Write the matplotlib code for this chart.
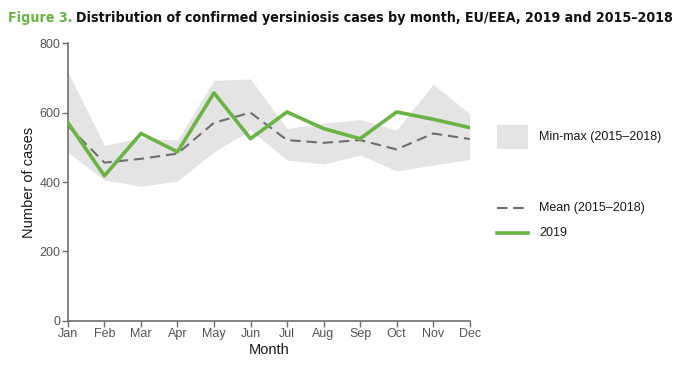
import matplotlib
matplotlib.use("Agg")
import matplotlib.pyplot as plt
from matplotlib import font_manager
from matplotlib.patches import Rectangle
from matplotlib.lines import Line2D

# ── Data ───────────────────────────────────────────────────────────────────
months = ["Jan", "Feb", "Mar", "Apr", "May", "Jun",
          "Jul", "Aug", "Sep", "Oct", "Nov", "Dec"]
cases_2019 = [571, 418, 540, 487, 657, 525, 602, 554, 525, 602, 581, 557]
mean_15_18 = [562, 456, 467, 482, 571, 600, 521, 513, 521, 494, 540, 524]
max_15_18 = [717, 506, 527, 521, 693, 697, 554, 570, 580, 550, 682, 597]
min_15_18 = [485, 406, 388, 403, 487, 550, 463, 452, 478, 432, 449, 465]

# ── Colours ────────────────────────────────────────────────────────────────
GREEN = "#6ab344"
BAND = "#e4e4e4"
MEAN_CLR = "#6e6e6e"
AXIS_CLR = "#707070"
TICK_TXT = "#555555"

plt.rcParams["font.family"] = ["Liberation Sans", "DejaVu Sans"]

# condensed bold face for the title if one is installed
fonts = font_manager.fontManager.ttflist
has_cond = any(f.name == "DejaVu Sans" and "ondensed" in str(f.stretch) + f.fname
               for f in fonts)
TITLE_KW = (dict(family="DejaVu Sans", fontstretch="condensed") if has_cond
            else dict(family="Liberation Sans"))

fig = plt.figure(figsize=(7.0, 3.67), dpi=100)
ax = fig.add_axes([0.097, 0.126, 0.574, 0.756])

x = list(range(len(months)))
ax.fill_between(x, min_15_18, max_15_18, color=BAND, linewidth=0, zorder=1)
ax.plot(x, mean_15_18, color=MEAN_CLR, lw=1.5, dashes=(5, 2.8), zorder=2)
ax.plot(x, cases_2019, color=GREEN, lw=2.6, zorder=3)

ax.set_xlim(0, 11)
ax.set_ylim(0, 800)
ax.set_xticks(x)
ax.set_xticklabels(months)
ax.set_yticks([0, 200, 400, 600, 800])

for side in ["top", "right"]:
    ax.spines[side].set_visible(False)
for side in ["left", "bottom"]:
    ax.spines[side].set_color(AXIS_CLR)
    ax.spines[side].set_linewidth(1.2)
ax.tick_params(axis="both", colors=AXIS_CLR, labelcolor=TICK_TXT,
               labelsize=9, length=4, width=1.0, pad=1.5)

ax.set_xlabel("Month", fontsize=10.5, color="#1a1a1a", labelpad=2)
ax.set_ylabel("Number of cases", fontsize=10.5, color="#1a1a1a", labelpad=2)

# ── Legend (drawn by hand to keep the wide gap of the original) ────────────
W, H = 700.0, 367.0
fig.add_artist(Rectangle((497 / W, 1 - 149 / H), 31 / W, 24 / H,
                         transform=fig.transFigure, facecolor=BAND,
                         edgecolor="none"))
fig.text(539 / W, 1 - 137 / H, "Min-max (2015\u20132018)", fontsize=9,
         color="#1a1a1a", va="center", ha="left")
fig.add_artist(Line2D([497 / W, 528 / W], [1 - 207.5 / H, 1 - 207.5 / H],
                      transform=fig.transFigure, color=MEAN_CLR, lw=1.5,
                      dashes=(5, 2.8)))
fig.text(539 / W, 1 - 207.5 / H, "Mean (2015\u20132018)", fontsize=9,
         color="#1a1a1a", va="center", ha="left")
fig.add_artist(Line2D([497 / W, 528 / W], [1 - 233 / H, 1 - 233 / H],
                      transform=fig.transFigure, color=GREEN, lw=2.6))
fig.text(539 / W, 1 - 233 / H, "2019", fontsize=9,
         color="#1a1a1a", va="center", ha="left")

# ── Title: green prefix + black bold text, fitted to span ~8..668 px ───────
title_a = "Figure 3."
title_b = "Distribution of confirmed yersiniosis cases by month, EU/EEA, 2019 and 2015\u20132018"
size = 11.0
for _ in range(3):
    for t in list(fig.texts):
        if t.get_gid() == "title":
            t.remove()
    t1 = fig.text(8 / W, 1 - 18 / H, title_a, fontsize=size, fontweight="bold",
                  color=GREEN, va="center", ha="left", gid="title", **TITLE_KW)
    fig.canvas.draw()
    bb = t1.get_window_extent()
    t2 = fig.text((bb.x1 + 4) / W, 1 - 18 / H, title_b, fontsize=size,
                  fontweight="bold", color="#111111", va="center", ha="left",
                  gid="title", **TITLE_KW)
    fig.canvas.draw()
    right = t2.get_window_extent().x1
    size = size * (668 - 8) / (right - 8)

fig.savefig("out.png", dpi=100)
